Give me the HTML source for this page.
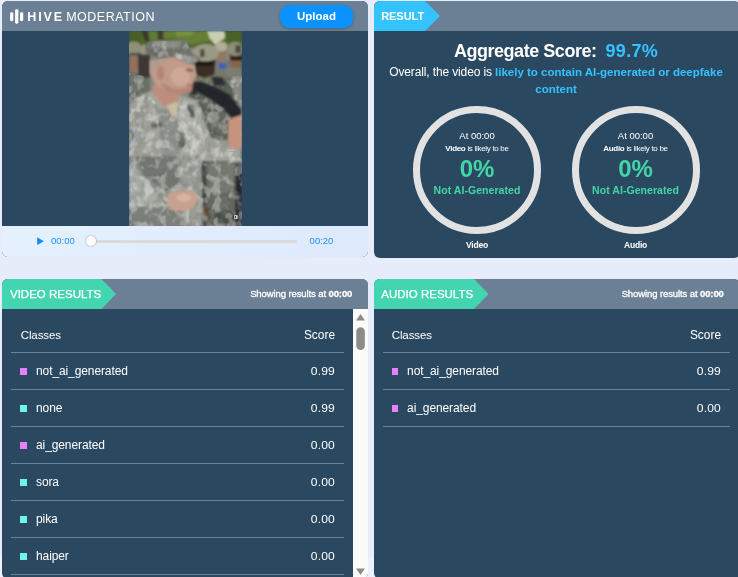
<!DOCTYPE html>
<html lang="en">
<head>
<meta charset="utf-8">
<title>Hive Moderation</title>
<style>
*{box-sizing:border-box;margin:0;padding:0}
html,body{width:738px;height:577px;overflow:hidden}
body{background:linear-gradient(to bottom,#e7ecfb 0,#e7ecfb 557px,#eef1fc 557px);font-family:"Liberation Sans",sans-serif;color:#fff;position:relative}
.panel{position:absolute;background:#2a4961;border-radius:6px;overflow:hidden}
.hdr{position:absolute;left:0;top:0;right:0;height:30px;background:#6b8094}
#p1{left:2px;top:1px;width:366px;height:255.500px}
#p2{left:374px;top:1px;width:366px;height:257px}
#p3{left:2px;top:279px;width:366px;height:299.500px}
#p4{left:374px;top:279px;width:366px;height:299.500px}
.tag{position:absolute;left:0;top:0;height:30px;color:#fff;font-size:11px;font-weight:bold;line-height:30px;padding-left:8px;white-space:nowrap}
.abs{position:absolute;white-space:nowrap}
.ctr{width:128px;text-align:center}
.grn{color:#43d5a8}
.show{right:15.700px;top:8.600px;font-size:9.500px;line-height:12px;-webkit-text-stroke:0.3px #fff;letter-spacing:-0.1px}
#p4 .show{right:16.200px}
.tbl{position:absolute;top:37px;left:9px;width:333px}
#tb4{left:9px;width:347px}
.row{position:relative;height:37px;border-bottom:1px solid #6a8297;font-size:12px;line-height:36px;white-space:nowrap}
.row .nm{position:absolute;left:25px;top:0}
.row.head{height:36.500px}
.row.head .nm{left:9.700px}
.row.head .sc{font-size:11.900px !important}
.row.head span{top:0.900px !important;font-size:11.500px}
.row:not(.head) .sc{font-size:11px;letter-spacing:0.1px;right:9.200px;top:0.500px;transform:scaleX(1.1);transform-origin:100% 50%}
.row .nm{letter-spacing:-0.1px}
.row:not(.head) .nm{transform:translateY(0.4px)}
.row .sc{position:absolute;right:9px;top:0}
.sq{position:absolute;left:9px;top:15px;width:7px;height:7px}
#tb4 .sq{left:8.500px;width:6.500px}
#tb4 .row .nm{left:24.100px}
#tb4 .row.head .nm{left:8.700px}
.pk{background:#e580ff}
.cy{background:#6ef4ea}
#tag4{padding-left:7.300px}
#tag2{padding-left:7.200px;letter-spacing:-0.05px}
#tag3,#tag4{line-height:30px;transform:translateY(-0.5px);font-weight:normal;font-size:11.500px;-webkit-text-stroke:0.25px #fff}
</style>
</head>
<body>

<!-- top-left: video player -->
<div class="panel" id="p1">
  <div class="hdr"></div>
  <svg class="abs" style="left:8px;top:8px" width="14" height="15" viewBox="0 0 14 15">
    <rect x="0.100" y="3.200" width="3.200" height="9" rx="1.400" fill="#fff"/>
    <rect x="5.100" y="0.200" width="3.300" height="14.500" rx="1.400" fill="#fff"/>
    <rect x="10" y="3.200" width="3.200" height="9" rx="1.400" fill="#fff"/>
  </svg>
  <div class="abs" id="hive" style="left:25.300px;top:9.100px;font-size:12.500px;line-height:15px;font-weight:bold;letter-spacing:1.9px">HIVE</div>
  <div class="abs" id="moder" style="left:64.200px;top:9.100px;font-size:12.500px;line-height:15px;letter-spacing:0.5px">MODERATION</div>
  <div class="abs" id="upload" style="left:278px;top:4px;width:73px;height:23px;border-radius:9px;background:#0b92ff;font-size:11.5px;font-weight:bold;line-height:23px;text-align:center;box-shadow:0 1px 3px rgba(0,0,0,.25)">Upload</div>
  <svg class="abs" id="photo" style="left:127px;top:30px" width="113" height="195.500" viewBox="0 0 113 195.500" preserveAspectRatio="none">
    <defs>
      <filter id="blr" x="-5%" y="-5%" width="110%" height="110%"><feGaussianBlur stdDeviation="0.9"/></filter>
      <filter id="camo" x="0" y="0" width="100%" height="100%">
        <feTurbulence type="fractalNoise" baseFrequency="0.13 0.11" numOctaves="2" seed="11" result="n"/>
        <feColorMatrix in="n" type="matrix" values="0 0 0 0 1  0 0 0 0 1  0 0 0 0 0.97  3.2 3.2 0 0 -3.0"/>
        <feGaussianBlur stdDeviation="0.6"/>
      </filter>
      <filter id="camod" x="0" y="0" width="100%" height="100%">
        <feTurbulence type="fractalNoise" baseFrequency="0.12 0.1" numOctaves="2" seed="29" result="n"/>
        <feColorMatrix in="n" type="matrix" values="0 0 0 0 0.2  0 0 0 0 0.22  0 0 0 0 0.2  3.2 0 3.2 0 -3.0"/>
        <feGaussianBlur stdDeviation="0.6"/>
      </filter>
      <clipPath id="pc"><rect x="0" y="0" width="113" height="195.500"/></clipPath>
      <clipPath id="uni"><path d="M0 75 L10 68 L20 63 L30 76 L42 84 L50 72 L54 66 L68 72 L74 88 L82 108 L96 112 L96 120 L113 122 L113 195.500 L0 195.500 Z M17 14 L20 10 L57 10 L62 22 L70 28 L58 32 L46 27 L18 25 Z M66 48 L113 45 L113 120 L96 120 L96 112 L82 108 L74 88 L66 70 Z M0 42 L20 46 L20 70 L0 75 Z"/></clipPath>
    </defs>
    <g clip-path="url(#pc)"><g filter="url(#blr)">
    <rect x="0" y="0" width="113" height="196" fill="#85877f"/>
    <rect x="0" y="0" width="113" height="17" fill="#4f6b2c"/>
    <polygon points="34.3,-0.0 82.0,-0.0 86.1,8.6 62.1,13.5 45.6,7.2 34.3,7.2" fill="#667f36"/>
    <polygon points="45.6,-0.0 65.4,-0.0 62.1,4.4 48.9,5.3" fill="#7a9340"/>
    <polygon points="78.3,-0.0 97.2,-0.0 95.5,7.2 86.1,13.5 80.6,7.2" fill="#c9cfae"/>
    <polygon points="95.2,-0.0 113.0,-0.0 113.0,11.5 101.8,10.6 96.5,7.2" fill="#486228"/>
    <polygon points="0.1,-0.0 12.5,-0.0 12.5,12.2 0.1,12.2" fill="#466026"/>
    <polygon points="12.5,-0.0 19.1,-0.0 20.8,9.9 15.8,10.6" fill="#39392a"/>
    <polygon points="28.2,-0.0 34.3,-0.0 34.3,8.9 29.1,8.9" fill="#403e2d"/>
    <polygon points="19.1,-0.0 28.2,-0.0 28.7,8.6 20.8,9.4" fill="#5f7c33"/>
    <polygon points="0.1,40.0 20.8,44.1 20.8,73.0 0.1,73.0" fill="#6b6e65"/>
    <polygon points="0.1,24.3 8.6,24.3 9.6,35.3 5.9,41.3 0.1,40.3" fill="#94705a"/>
    <ellipse cx="4.6" cy="18.2" rx="8.3" ry="7.6" fill="#918f7c"/>
    <polygon points="0.1,21.8 11.7,21.8 11.7,24.8 0.1,24.8" fill="#55544a"/>
    <polygon points="8.9,23.4 21.1,23.4 21.1,46.6 8.9,46.6" fill="#3d3934"/>
    <ellipse cx="15.5" cy="18.8" rx="4.1" ry="5.0" fill="#979583"/>
    <polygon points="86.6,29.2 101.8,29.2 101.8,46.6 86.6,46.6" fill="#77786d"/>
    <polygon points="87.7,18.8 97.2,18.8 96.5,30.9 88.6,30.9" fill="#93775f"/>
    <ellipse cx="92.2" cy="15.5" rx="6.4" ry="5.0" fill="#b1ae99"/>
    <polygon points="89.9,32.0 97.3,32.0 97.3,37.8 89.9,37.8" fill="#3d62b8"/>
    <polygon points="96.8,36.3 113.0,34.2 113.0,73.0 96.8,73.0" fill="#7b7c71"/>
    <polygon points="99.8,23.1 113.0,23.1 113.0,37.0 101.8,36.0" fill="#85634e"/>
    <polygon points="100.8,24.8 113.0,24.8 113.0,29.4 101.8,29.4" fill="#25201e"/>
    <ellipse cx="106.4" cy="17.8" rx="7.8" ry="7.1" fill="#8f8e7a"/>
    <polygon points="106.4,14.2 111.9,14.2 111.9,22.0 106.4,22.0" fill="#4b4a43"/>
    <polygon points="59.6,46.6 103.4,46.6 110.0,78.8 101.8,108.6 73.7,108.6 59.6,78.8" fill="#5a5e55"/>
    <polygon points="64.6,43.3 88.6,43.3 91.0,51.5 65.4,52.4" fill="#72725f"/>
    <polygon points="65.4,28.7 86.6,28.7 85.6,43.6 75.7,46.9 66.2,43.6" fill="#3b2d26"/>
    <polygon points="66.2,30.1 84.9,30.1 83.9,34.7 67.1,34.7" fill="#1c1918"/>
    <ellipse cx="76.7" cy="21.8" rx="13.1" ry="8.8" fill="#9b9a86"/>
    <polygon points="71.2,18.2 75.5,18.2 75.5,26.1 71.2,26.1" fill="#49493f"/>
    <polygon points="101.8,49.1 113.0,49.1 113.0,75.5 105.9,68.9" fill="#8a8c84"/>
    <ellipse cx="84.4" cy="86.3" rx="6.0" ry="6.0" fill="#8c9087"/>
    <polygon points="71.2,125.3 113.0,125.3 113.0,194.4 72.9,194.4" fill="#63675f"/>
    <polygon points="78.6,133.6 105.1,130.3 103.4,160.1 82.0,165.0" fill="#74786f"/>
    <polygon points="71.2,125.3 76.7,125.3 77.3,194.4 72.4,194.4" fill="#3f413f"/>
    <polygon points="108.4,125.3 113.0,125.3 113.0,194.4 105.9,194.4 106.4,151.8" fill="#26282d"/>
    <ellipse cx="94.8" cy="186.0" rx="9.3" ry="8.3" fill="#494e48"/>
    <polygon points="73.7,176.6 81.1,176.6 81.1,188.5 73.7,188.5" fill="#5a4c3c"/>
    <polygon points="0.1,73.0 10.9,64.8 22.4,59.8 50.5,64.0 67.1,68.9 73.7,85.4 82.0,106.9 110.0,113.5 113.0,130.1 0.1,130.1" fill="#a3a59d"/>
    <polygon points="0.1,73.0 10.9,64.8 19.1,61.0 20.8,130.1 0.1,130.1" fill="#9c9e97"/>
    <polygon points="27.4,78.8 50.5,75.5 50.5,130.1 34.0,130.1" fill="#8e918b"/>
    <polygon points="50.5,68.9 68.7,72.2 73.7,92.1 68.7,130.1 52.2,130.1" fill="#b1b3ab"/>
    <polygon points="0.1,125.3 72.0,125.3 73.7,194.4 0.1,194.4" fill="#90938c"/>
    <polygon points="5.9,125.3 50.5,125.3 50.5,151.8 37.3,160.1 15.8,146.8" fill="#72756f"/>
    <polygon points="0.1,136.9 14.2,146.8 37.3,174.9 0.1,176.6" fill="#a9aba5"/>
    <polygon points="0.1,174.9 52.2,178.2 52.2,194.4 0.1,194.4" fill="#7c7f79"/>
    <polygon points="51.4,125.3 72.0,125.3 72.9,194.4 53.0,194.4" fill="#9a9c96"/>
    <polygon points="49.7,101.1 56.3,101.1 56.3,116.9 49.7,116.9" fill="#5d605d"/>
    <polygon points="22.4,92.1 33.2,91.2 33.2,96.2 22.4,97.0" fill="#5f625e"/>
    <polygon points="57.2,73.9 63.8,73.0 66.2,86.3 62.1,87.1" fill="#55585a"/>
    <polygon points="0.1,99.5 4.3,101.1 5.1,106.9 1.8,112.7 0.1,111.9" fill="#5b66a8"/>
    <polygon points="0.1,101.1 2.3,102.3 2.3,108.6 0.1,110.2" fill="#c9c24f"/>
    <polygon points="16.2,14.4 22.4,9.4 57.5,9.1 60.1,15.5 62.4,21.8 71.5,27.7 68.9,30.6 57.2,32.9 45.6,27.2 22.4,25.6 16.8,21.8" fill="#6f726b"/>
    <polygon points="25.8,10.2 52.2,10.2 50.5,16.8 29.1,16.8" fill="#8c8f86"/>
    <polygon points="45.6,21.8 67.1,26.8 68.9,30.2 57.5,32.5 46.4,26.9" fill="#9b9d97"/>
    <polygon points="17.5,16.8 29.1,17.7 29.1,24.8 17.5,23.4" fill="#63665f"/>
    <ellipse cx="106.7" cy="185.8" rx="3.3" ry="3.3" fill="#2a2c2e"/>
    </g>
    <g clip-path="url(#uni)"><rect x="0" y="0" width="113" height="195.500" fill="#fff" filter="url(#camo)" opacity="0.33"/><rect x="0" y="0" width="113" height="195.500" fill="#000" filter="url(#camod)" opacity="0.33"/></g>
    <g filter="url(#blr)">
    <polygon points="62.9,52.4 70.4,50.4 85.3,55.7 100.1,63.1 111.7,78.0 113.0,87.9 105.9,90.4 93.5,76.4 78.6,66.4 63.8,58.2" fill="#21252b"/>
    <polygon points="82.0,45.8 93.5,46.6 96.8,54.0 86.1,54.9" fill="#2a2e33"/>
    <polygon points="61.8,50.7 67.4,50.7 67.4,63.4 61.8,63.4" fill="#2b2a27"/>
    <polygon points="23.3,54.0 51.4,55.7 49.2,70.6 43.1,77.2 34.0,74.7 24.1,62.3" fill="#bf8d7b"/>
    <polygon points="37.3,74.7 48.9,70.6 48.6,86.3 42.3,83.8" fill="#c8bda2"/>
    <polygon points="20.8,29.7 45.6,26.1 57.2,32.0 65.4,34.2 67.7,44.6 63.8,51.9 62.4,60.8 50.5,63.8 37.3,61.1 25.8,52.9 20.8,41.3" fill="#c29a89"/>
    <ellipse cx="51.4" cy="45.3" rx="9.6" ry="9.6" fill="#cfa797"/>
    <ellipse cx="31.5" cy="42.0" rx="3.5" ry="6.9" fill="#b58472"/>
    <polygon points="20.8,29.7 34.8,28.1 32.0,34.4 22.4,40.3" fill="#b39a90"/>
    <ellipse cx="60.8" cy="39.3" rx="4.0" ry="1.7" fill="#8e6859"/>
    <ellipse cx="60.8" cy="54.4" rx="3.3" ry="1.0" fill="#9c6d5f"/>
    <polygon points="37.3,61.1 50.5,63.8 62.4,60.8 62.1,56.5 45.6,58.2 31.5,51.5" fill="#b38674"/>
    <polygon points="99.3,89.1 105.1,86.3 113.0,83.8 113.0,117.2 103.4,118.8 98.8,108.6" fill="#c6937e"/>
    <polygon points="39.3,162.5 50.5,159.2 65.4,160.9 68.7,166.7 66.2,174.9 55.5,180.2 43.1,179.6 38.1,173.3" fill="#c7a090"/>
    <ellipse cx="54.7" cy="166.7" rx="7.4" ry="4.1" fill="#d6b2a4"/>
    </g>
    <polygon points="105.1,184.2 108.6,184.2 108.6,187.7 105.1,187.7" fill="#f2f2f2"/><polygon points="105.8,184.9 107.1,184.9 107.1,187.0 105.8,187.0" fill="#2a2c2e"/>
    </g>
  </svg>
  <div class="abs" id="ctrl" style="left:0;top:225px;width:366px;height:31px;background:linear-gradient(to right,#e5f0ff,#deeafc)"></div>
  <svg class="abs" style="left:35px;top:236.200px" width="8" height="9" viewBox="0 0 8 9"><path d="M0.200 0.300 L6.900 4.200 L0.200 8.100 Z" fill="#0a8dff"/></svg>
  <div class="abs" id="t0" style="left:49px;top:234.100px;font-size:9.500px;line-height:11px;color:#1c8fff">00:00</div>
  <div class="abs" style="left:89px;top:239.100px;width:206px;height:3px;border-radius:2px;background:#dadada"></div>
  <div class="abs" style="left:83.700px;top:234.700px;width:10.600px;height:10.600px;border-radius:50%;background:#fff;box-shadow:0 0 2px rgba(0,0,0,.4)"></div>
  <div class="abs" id="t1" style="left:307.600px;top:234.100px;font-size:9.500px;line-height:11px;color:#1c8fff">00:20</div>
</div>

<!-- top-right: result -->
<div class="panel" id="p2">
  <div class="hdr"></div>
  <svg class="abs" style="left:0;top:0" width="70" height="30" viewBox="0 0 70 30"><path d="M0 0 H51 L66 15 L51 30 H0 Z" fill="#35c3ff"/></svg>
  <div class="tag" id="tag2">RESULT</div>
  <div class="abs" id="agg" style="left:0;width:364px;top:37.500px;text-align:center;font-size:18px;line-height:24px;font-weight:bold"><span id="agg1" style="letter-spacing:-0.46px">Aggregate Score:</span><span id="agg2" style="color:#35c3ff;margin-left:9px;letter-spacing:0.3px">99.7%</span></div>
  <div class="abs" id="ovr" style="left:0;width:364px;top:63px;text-align:center;font-size:12px;line-height:17px"><span id="ov1" style="letter-spacing:-0.13px">Overall, the video is </span><span id="ov2" style="color:#35c3ff;font-weight:bold;font-size:11.500px">likely to contain AI-generated or deepfake</span><br><span id="ov3" style="color:#35c3ff;font-weight:bold;font-size:11.500px">content</span></div>
  <div class="abs" style="left:39px;top:105px;width:128px;height:128px;border-radius:50%;border:7.500px solid #e2e2e2"></div>
  <div class="abs" style="left:197.500px;top:105px;width:128px;height:128px;border-radius:50%;border:7.500px solid #e2e2e2"></div>

  <div class="abs ctr" id="c1a" style="left:39px;top:127.500px;font-size:9.500px;line-height:13px">At 00:00</div>
  <div class="abs ctr" id="c1b" style="left:39px;top:141.500px;font-size:8px;line-height:11px;letter-spacing:-0.3px"><b>Video</b> is likely to be</div>
  <div class="abs ctr grn" id="c1c" style="left:39px;top:154px;font-size:24px;line-height:27px;font-weight:bold">0%</div>
  <div class="abs ctr grn" id="c1d" style="left:39px;top:181.500px;font-size:10.500px;line-height:15px;font-weight:bold;letter-spacing:0.06px">Not AI-Generated</div>
  <div class="abs ctr" id="c1e" style="left:39px;top:239px;font-size:8.500px;line-height:11px;font-weight:bold;letter-spacing:-0.2px">Video</div>

  <div class="abs ctr" id="c2a" style="left:197.500px;top:127.500px;font-size:9.500px;line-height:13px">At 00:00</div>
  <div class="abs ctr" id="c2b" style="left:197.500px;top:141.500px;font-size:8px;line-height:11px;letter-spacing:-0.3px"><b>Audio</b> is likely to be</div>
  <div class="abs ctr grn" id="c2c" style="left:197.500px;top:154px;font-size:24px;line-height:27px;font-weight:bold">0%</div>
  <div class="abs ctr grn" id="c2d" style="left:197.500px;top:181.500px;font-size:10.500px;line-height:15px;font-weight:bold;letter-spacing:0.06px">Not AI-Generated</div>
  <div class="abs ctr" id="c2e" style="left:197.500px;top:239px;font-size:8.500px;line-height:11px;font-weight:bold;letter-spacing:-0.2px">Audio</div>
</div>

<!-- bottom-left: video results -->
<div class="panel" id="p3">
  <div class="hdr"></div>
  <svg class="abs" style="left:0;top:0" width="120" height="30" viewBox="0 0 120 30"><path d="M0 0 H99.500 L114 15 L99.500 30 H0 Z" fill="#43d5b0"/></svg>
  <div class="tag" id="tag3">VIDEO RESULTS</div>
  <div class="abs show">Showing results at <b>00:00</b></div>
  <div class="tbl" id="tb3">
    <div class="row head"><span class="nm">Classes</span><span class="sc">Score</span></div>
    <div class="row"><i class="sq pk"></i><span class="nm">not_ai_generated</span><span class="sc">0.99</span></div>
    <div class="row"><i class="sq cy"></i><span class="nm">none</span><span class="sc">0.99</span></div>
    <div class="row"><i class="sq pk"></i><span class="nm">ai_generated</span><span class="sc">0.00</span></div>
    <div class="row"><i class="sq cy"></i><span class="nm">sora</span><span class="sc">0.00</span></div>
    <div class="row"><i class="sq cy"></i><span class="nm">pika</span><span class="sc">0.00</span></div>
    <div class="row"><i class="sq cy"></i><span class="nm">haiper</span><span class="sc">0.00</span></div>
    <div class="row"><i class="sq cy"></i><span class="nm">kling</span><span class="sc">0.00</span></div>
  </div>
  <div class="abs" style="left:351px;top:30px;width:15px;height:280px;background:#fbfbfb"></div>
  <svg class="abs" style="left:351px;top:30px" width="15" height="268" viewBox="0 0 15 268">
    <path d="M7.500 5 L12 11.500 H3 Z" fill="#8b8b8b"/>
    <rect x="3.300" y="18.300" width="8.500" height="22.600" rx="4.250" fill="#8b8b8b"/>
    <path d="M7.500 266 L12 259.500 H3 Z" fill="#8b8b8b"/>
  </svg>
</div>

<!-- bottom-right: audio results -->
<div class="panel" id="p4">
  <div class="hdr"></div>
  <svg class="abs" style="left:0;top:0" width="120" height="30" viewBox="0 0 120 30"><path d="M0 0 H100 L114.500 15 L100 30 H0 Z" fill="#43d5b0"/></svg>
  <div class="tag" id="tag4">AUDIO RESULTS</div>
  <div class="abs show">Showing results at <b>00:00</b></div>
  <div class="tbl" id="tb4">
    <div class="row head"><span class="nm">Classes</span><span class="sc">Score</span></div>
    <div class="row"><i class="sq pk"></i><span class="nm">not_ai_generated</span><span class="sc">0.99</span></div>
    <div class="row"><i class="sq pk"></i><span class="nm">ai_generated</span><span class="sc">0.00</span></div>
  </div>
</div>

</body>
</html>
